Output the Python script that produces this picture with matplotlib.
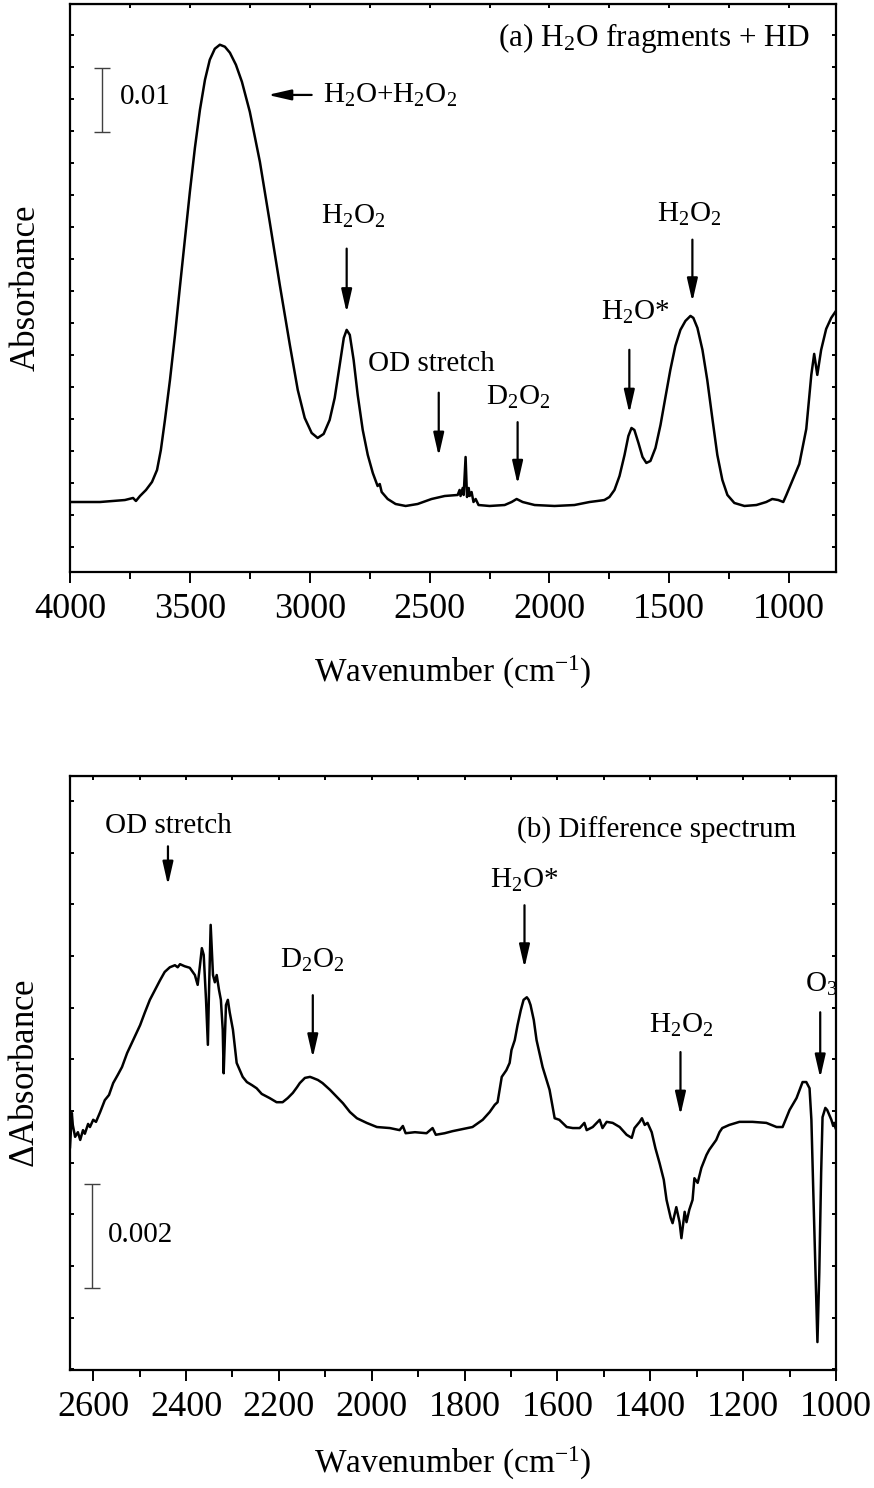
import matplotlib
matplotlib.use("Agg")
import matplotlib.pyplot as plt
from matplotlib.ticker import MultipleLocator, NullFormatter

plt.rcParams['font.family'] = ['Liberation Serif', 'DejaVu Serif']
plt.rcParams['mathtext.fontset'] = 'custom'
plt.rcParams['mathtext.rm'] = 'Liberation Serif'
plt.rcParams['mathtext.it'] = 'Liberation Serif:italic'

# (a) absorbance spectrum
wn_a = [4000, 3875, 3771, 3737, 3725, 3708, 3683, 3658, 3637, 3621, 3604, 3583,
        3562, 3542, 3521, 3500, 3479, 3458, 3437, 3417, 3396, 3375, 3354, 3333,
        3308, 3283, 3250, 3208, 3167, 3125, 3083, 3050, 3021, 2992, 2967, 2942,
        2917, 2896, 2875, 2858, 2846, 2833, 2817, 2800, 2779, 2758, 2737, 2717,
        2708, 2700, 2675, 2642, 2600, 2550, 2492, 2437, 2383, 2375, 2371, 2362,
        2358, 2350, 2344, 2337, 2333, 2325, 2317, 2308, 2296, 2250, 2187, 2158,
        2137, 2112, 2062, 1979, 1896, 1833, 1800, 1771, 1750, 1729, 1708, 1687,
        1671, 1658, 1646, 1629, 1612, 1596, 1579, 1558, 1537, 1517, 1496, 1475,
        1454, 1433, 1412, 1400, 1383, 1362, 1342, 1321, 1300, 1279, 1258, 1229,
        1187, 1137, 1096, 1071, 1046, 1025, 1012, 958, 929, 908, 896, 883, 867,
        846, 825, 805]
abs_a = [0.00703, 0.00703, 0.00734, 0.00766, 0.00719, 0.00797, 0.00891, 0.01016,
         0.01203, 0.01516, 0.01984, 0.02609, 0.03313, 0.04047, 0.04797, 0.05547,
         0.06234, 0.06828, 0.07297, 0.07609, 0.07781, 0.07844, 0.07813, 0.07719,
         0.07531, 0.07266, 0.06797, 0.06016, 0.05078, 0.04094, 0.03156, 0.02453,
         0.02016, 0.01781, 0.01703, 0.01766, 0.01984, 0.02328, 0.02844, 0.03266,
         0.03391, 0.03313, 0.02922, 0.02375, 0.01828, 0.01438, 0.01156, 0.00953,
         0.00984, 0.00859, 0.00750, 0.00672, 0.00641, 0.00672, 0.00750, 0.00797,
         0.00813, 0.00891, 0.00797, 0.00922, 0.00813, 0.01406, 0.00781, 0.00922,
         0.00797, 0.00859, 0.00703, 0.00750, 0.00656, 0.00641, 0.00656, 0.00703,
         0.00750, 0.00703, 0.00656, 0.00641, 0.00656, 0.00703, 0.00719, 0.00734,
         0.00781, 0.00891, 0.01109, 0.01438, 0.01734, 0.01859, 0.01828, 0.01625,
         0.01406, 0.01313, 0.01344, 0.01547, 0.01906, 0.02328, 0.02766, 0.03141,
         0.03391, 0.03531, 0.03609, 0.03578, 0.03422, 0.03078, 0.02609, 0.02016,
         0.01438, 0.01047, 0.00813, 0.00688, 0.00641, 0.00656, 0.00703, 0.00750,
         0.00734, 0.00703, 0.00813, 0.01297, 0.01844, 0.02688, 0.03016, 0.02688,
         0.03078, 0.03406, 0.03578, 0.03688]

# (b) difference spectrum
wn_b = [2650, 2646, 2644, 2639, 2633, 2628, 2622, 2618, 2611, 2607, 2600, 2594,
        2585, 2575, 2566, 2557, 2547, 2538, 2527, 2514, 2499, 2489, 2478, 2467,
        2456, 2446, 2435, 2424, 2418, 2413, 2403, 2392, 2381, 2375, 2370, 2366,
        2362, 2357, 2353, 2351, 2347, 2342, 2338, 2334, 2329, 2325, 2321, 2319,
        2314, 2310, 2306, 2299, 2291, 2278, 2269, 2258, 2248, 2237, 2220, 2205,
        2192, 2181, 2170, 2161, 2155, 2144, 2133, 2127, 2116, 2106, 2090, 2075,
        2062, 2047, 2032, 2011, 1989, 1961, 1940, 1933, 1927, 1907, 1882, 1869,
        1862, 1843, 1826, 1804, 1783, 1761, 1746, 1735, 1729, 1720, 1710, 1703,
        1699, 1692, 1686, 1679, 1673, 1666, 1662, 1658, 1651, 1645, 1632, 1617,
        1606, 1596, 1580, 1567, 1552, 1542, 1537, 1524, 1509, 1503, 1494, 1481,
        1466, 1451, 1440, 1434, 1423, 1418, 1412, 1406, 1397, 1389, 1380, 1371,
        1365, 1356, 1352, 1344, 1337, 1333, 1326, 1322, 1316, 1309, 1305, 1298,
        1290, 1279, 1273, 1266, 1258, 1251, 1245, 1230, 1208, 1180, 1150, 1128,
        1115, 1100, 1085, 1072, 1064, 1057, 1053, 1049, 1044, 1040, 1036, 1032,
        1029, 1023, 1019, 1010, 1006, 1004, 1001]
dabs_b = [-0.00070, -0.00004, -0.00027, -0.00050, -0.00041, -0.00056, -0.00037,
          -0.00044, -0.00025, -0.00031, -0.00017, -0.00021, -0.00002, 0.00021,
          0.00031, 0.00054, 0.00070, 0.00085, 0.00112, 0.00137, 0.00166, 0.00190,
          0.00215, 0.00234, 0.00253, 0.00269, 0.00278, 0.00282, 0.00278, 0.00284,
          0.00280, 0.00277, 0.00263, 0.00244, 0.00282, 0.00315, 0.00302, 0.00215,
          0.00128, 0.00215, 0.00360, 0.00263, 0.00249, 0.00263, 0.00234, 0.00215,
          0.00157, 0.00073, 0.00205, 0.00215, 0.00191, 0.00157, 0.00093, 0.00066,
          0.00056, 0.00050, 0.00044, 0.00033, 0.00025, 0.00017, 0.00017, 0.00025,
          0.00035, 0.00046, 0.00054, 0.00064, 0.00066, 0.00064, 0.00060, 0.00054,
          0.00041, 0.00027, 0.00015, -0.00002, -0.00014, -0.00023, -0.00031,
          -0.00033, -0.00037, -0.00029, -0.00043, -0.00041, -0.00043, -0.00033,
          -0.00046, -0.00043, -0.00039, -0.00035, -0.00031, -0.00017, -0.00002,
          0.00012, 0.00017, 0.00066, 0.00079, 0.00093, 0.00118, 0.00137, 0.00166,
          0.00195, 0.00215, 0.00220, 0.00215, 0.00205, 0.00176, 0.00137, 0.00085,
          0.00041, -0.00014, -0.00017, -0.00031, -0.00033, -0.00033, -0.00023,
          -0.00037, -0.00031, -0.00017, -0.00033, -0.00021, -0.00023, -0.00031,
          -0.00046, -0.00052, -0.00033, -0.00021, -0.00014, -0.00027, -0.00023,
          -0.00041, -0.00072, -0.00101, -0.00133, -0.00172, -0.00207, -0.00217,
          -0.00186, -0.00215, -0.00246, -0.00195, -0.00215, -0.00191, -0.00172,
          -0.00130, -0.00139, -0.00110, -0.00085, -0.00075, -0.00066, -0.00056,
          -0.00041, -0.00033, -0.00027, -0.00021, -0.00021, -0.00023, -0.00031,
          -0.00031, 0.00002, 0.00025, 0.00056, 0.00056, 0.00044, -0.00017,
          -0.00153, -0.00313, -0.00447, -0.00313, -0.00120, -0.00012, 0.00006,
          0.00002, -0.00017, -0.00029, -0.00023, -0.00033]

W, H = 874, 1488
fig = plt.figure(figsize=(W / 100, H / 100), dpi=100)
ax1 = fig.add_axes([70 / W, 1 - 572 / H, 766 / W, 568 / H])
ax2 = fig.add_axes([70 / W, 1 - 1370 / H, 766 / W, 594 / H])

FS_TICK = 26
FS_LAB = 24
FS_ANN = 21
arrow = dict(arrowstyle='-|>,head_length=0.7,head_width=0.16', color='k',
             lw=1.6, mutation_scale=20, shrinkA=0, shrinkB=0)


def style(ax, xlim, ylim, xmaj, xmin, ystep):
    ax.set_xlim(*xlim)
    ax.set_ylim(*ylim)
    for s in ax.spines.values():
        s.set_linewidth(1.6)
    ax.xaxis.set_major_locator(MultipleLocator(xmaj))
    ax.xaxis.set_minor_locator(MultipleLocator(xmin))
    ax.yaxis.set_major_locator(MultipleLocator(ystep))
    ax.tick_params(axis='x', which='major', direction='out', length=8, width=1.4,
                   labelsize=FS_TICK, pad=7)
    ax.tick_params(axis='x', which='minor', direction='out', length=5, width=1.4)
    ax.tick_params(axis='y', which='major', direction='in', length=3, width=1.4,
                   left=True, right=True, labelleft=False)
    top = ax.secondary_xaxis('top')
    top.xaxis.set_major_locator(MultipleLocator(xmin))
    top.xaxis.set_major_formatter(NullFormatter())
    top.tick_params(direction='in', length=3, width=1.4)
    ax.set_xlabel('Wavenumber (cm$^{-1}$)', fontsize=FS_LAB)


# ---- panel (a)
ax1.plot(wn_a, abs_a, color='k', lw=1.8)
style(ax1, (4000, 805), (-0.0039, 0.0848), 500, 250, 0.005)
ax1.set_ylabel('Absorbance', fontsize=FS_LAB + 1)
ax1.yaxis.set_label_coords(-0.036, 0.5)
ax1.xaxis.set_label_coords(0.5, -0.145)
ax1.errorbar([3867], [0.0698], yerr=0.005, color='0.25', lw=1, capsize=6,
             capthick=1)
ax1.text(3792, 0.0702, '0.01', fontsize=FS_ANN, va='center', ha='left')
ax1.text(917, 0.0795, '(a) H$_2$O fragments + HD', fontsize=22.5,
         ha='right', va='center')
ax1.text(2946, 0.0705, 'H$_2$O+H$_2$O$_2$', fontsize=FS_ANN, ha='left',
         va='center')
ax1.annotate('', xy=(3175, 0.0706), xytext=(2992, 0.0706), arrowprops=arrow)
ax1.text(2817, 0.0516, 'H$_2$O$_2$', fontsize=FS_ANN, ha='center', va='center')
ax1.annotate('', xy=(2846, 0.0366), xytext=(2846, 0.0466), arrowprops=arrow)
ax1.text(2492, 0.0286, 'OD stretch', fontsize=FS_ANN, ha='center', va='center')
ax1.annotate('', xy=(2462, 0.0142), xytext=(2462, 0.0241), arrowprops=arrow)
ax1.text(2129, 0.0234, 'D$_2$O$_2$', fontsize=FS_ANN, ha='center', va='center')
ax1.annotate('', xy=(2133, 0.0098), xytext=(2133, 0.0195), arrowprops=arrow)
ax1.text(1642, 0.0366, 'H$_2$O*', fontsize=FS_ANN, ha='center', va='center')
ax1.annotate('', xy=(1667, 0.0209), xytext=(1667, 0.0308), arrowprops=arrow)
ax1.text(1417, 0.0519, 'H$_2$O$_2$', fontsize=FS_ANN, ha='center', va='center')
ax1.annotate('', xy=(1404, 0.0383), xytext=(1404, 0.0480), arrowprops=arrow)

# ---- panel (b)
ax2.plot(wn_b, dabs_b, color='k', lw=1.8)
style(ax2, (2650, 1000), (-0.00501, 0.00648), 200, 100, 0.001)
ax2.set_ylabel('$\\Delta$Absorbance', fontsize=FS_LAB + 1)
ax2.yaxis.set_label_coords(-0.036, 0.5)
ax2.xaxis.set_label_coords(0.5, -0.126)
ax2.errorbar([2603], [-0.002415], yerr=0.001, color='0.25', lw=1, capsize=6,
             capthick=1)
ax2.text(2568, -0.0024, '0.002', fontsize=FS_ANN, va='center', ha='left')
ax2.text(1085, 0.00543, '(b) Difference spectrum', fontsize=FS_ANN,
         ha='right', va='center')
ax2.text(2439, 0.00551, 'OD stretch', fontsize=FS_ANN, ha='center', va='center')
ax2.annotate('', xy=(2439, 0.00437), xytext=(2439, 0.00512), arrowprops=arrow)
ax2.text(1671, 0.00447, 'H$_2$O*', fontsize=FS_ANN, ha='center', va='center')
ax2.annotate('', xy=(1671, 0.00277), xytext=(1671, 0.00398), arrowprops=arrow)
ax2.text(2129, 0.00292, 'D$_2$O$_2$', fontsize=FS_ANN, ha='center', va='center')
ax2.annotate('', xy=(2127, 0.00103), xytext=(2127, 0.00224), arrowprops=arrow)
ax2.text(1333, 0.00166, 'H$_2$O$_2$', fontsize=FS_ANN, ha='center', va='center')
ax2.annotate('', xy=(1335, -0.00008), xytext=(1335, 0.00114), arrowprops=arrow)
ax2.text(1032, 0.00244, 'O$_3$', fontsize=FS_ANN, ha='center', va='center')
ax2.annotate('', xy=(1034, 0.00064), xytext=(1034, 0.00191), arrowprops=arrow)

fig.savefig('out.png', dpi=100)
